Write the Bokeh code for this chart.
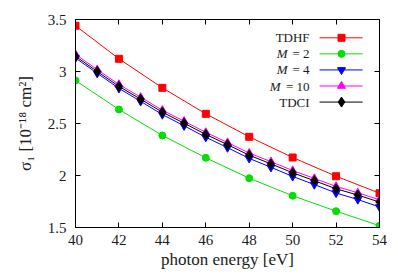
from bokeh.plotting import figure
from bokeh.models import Range1d, FixedTicker, LinearAxis, Label, CustomLabelingPolicy
from bokeh.core.properties import value
from bokeh.embed import file_html
from bokeh.resources import INLINE

# ---- data ----
energy_coarse = [40, 42, 44, 46, 48, 50, 52, 54]
energy_fine = [40, 41, 42, 43, 44, 45, 46, 47, 48, 49, 50, 51, 52, 53, 54]

tdhf = [3.44, 3.122, 2.843, 2.593, 2.372, 2.173, 1.993, 1.830]
m2 = [2.913, 2.635, 2.385, 2.170, 1.974, 1.805, 1.657, 1.517]
m4 = [3.130, 2.983, 2.838, 2.713, 2.586, 2.478, 2.368, 2.268, 2.164, 2.079,
      1.991, 1.913, 1.832, 1.769, 1.697]
m10 = [3.165, 3.018, 2.876, 2.753, 2.628, 2.522, 2.415, 2.317, 2.216, 2.133,
       2.048, 1.972, 1.895, 1.834, 1.766]
tdci = [3.147, 3.000, 2.857, 2.734, 2.609, 2.503, 2.395, 2.297, 2.195, 2.112,
        2.026, 1.950, 1.872, 1.812, 1.744]

x_ticks = [40, 42, 44, 46, 48, 50, 52, 54]
x_tick_labels = ["40", "42", "44", "46", "48", "50", "52", "54"]
y_ticks = [1.5, 2.0, 2.5, 3.0, 3.5]
y_tick_labels = ["1.5", "2", "2.5", "3", "3.5"]

series_names = ["TDHF", "M = 2", "M = 4", "M = 10", "TDCI"]
series_colors = ["#ff0000", "#00e000", "#0000ff", "#ff00ff", "#000000"]
series_markers = ["square", "circle", "inverted_triangle", "triangle", "diamond"]

FONT = "Liberation Serif"
TXT = "#1a1a1a"

p = figure(width=390, height=271, output_backend="svg", toolbar_location=None,
           x_range=Range1d(40, 54), y_range=Range1d(1.5, 3.5),
           min_border_left=75, min_border_top=19, min_border_right=11,
           min_border_bottom=10)
p.grid.visible = False
p.outline_line_color = "black"
p.outline_line_width = 1
p.background_fill_color = "white"
p.border_fill_color = "white"

for ax in (p.xaxis[0], p.yaxis[0]):
    ax.major_tick_in = 5
    ax.major_tick_out = 0
    ax.minor_tick_line_color = None
    ax.axis_line_color = "black"
    ax.major_tick_line_color = "black"
    ax.major_label_text_font = FONT
    ax.major_label_text_font_size = "15px"
    ax.major_label_text_color = TXT
    ax.axis_label_text_font = FONT
    ax.axis_label_text_font_size = "17px"
    ax.axis_label_text_font_style = "normal"
    ax.axis_label_text_color = TXT

p.xaxis.ticker = FixedTicker(ticks=x_ticks)
p.yaxis.ticker = FixedTicker(ticks=y_ticks)
p.xaxis.major_label_overrides = {t: l for t, l in zip(x_ticks, x_tick_labels)}
p.yaxis.major_label_overrides = {t: l for t, l in zip(y_ticks, y_tick_labels)}
p.xaxis.major_label_standoff = 7
p.yaxis.major_label_standoff = 9
p.xaxis.axis_label = "photon energy [eV]"
p.yaxis.axis_label = "σ₁ [10⁻¹⁸ cm²]"
p.xaxis.axis_label_standoff = 2
p.yaxis.axis_label_standoff = 10

top = LinearAxis(ticker=FixedTicker(ticks=x_ticks),
                 major_label_policy=CustomLabelingPolicy(code="return new Set()"),
                 major_label_text_font_size="1px",
                 major_tick_in=5, major_tick_out=0, minor_tick_line_color=None,
                 major_label_standoff=0)
right = LinearAxis(ticker=FixedTicker(ticks=y_ticks),
                   major_label_policy=CustomLabelingPolicy(code="return new Set()"),
                   major_label_text_font_size="1px",
                   major_tick_in=5, major_tick_out=0, minor_tick_line_color=None,
                   major_label_standoff=0)
p.add_layout(top, "above")
p.add_layout(right, "right")

all_x = [energy_coarse, energy_coarse, energy_fine, energy_fine, energy_fine]
all_y = [tdhf, m2, m4, m10, tdci]
for xs, ys, c, mk in zip(all_x, all_y, series_colors, series_markers):
    p.line(xs, ys, line_color=c, line_width=1)
    size = 8 if mk in ("triangle", "inverted_triangle") else 7
    if mk == "diamond":
        size = 10
    p.scatter(xs, ys, marker=mk, size=size, fill_color=c, line_color=c)

# ---- custom legend (label on left, sample on right) ----
leg_y_top = 3.324
leg_dy = 0.1545
leg_text_x = 50.78
leg_line_x0, leg_line_x1 = 51.24, 53.22
leg_mark_x = 52.25
for i, (name, c, mk) in enumerate(zip(series_names, series_colors, series_markers)):
    yy = leg_y_top - i * leg_dy
    if name.startswith("M = "):
        rest = name[1:].strip()
        p.text([leg_text_x], [yy], text=[rest], text_align="right",
               text_baseline="middle", text_font=value(FONT),
               text_font_size="13px", text_color=TXT)
        off = -22 if len(rest) <= 3 else -29
        p.text([leg_text_x], [yy], text=["M"], text_align="right",
               text_baseline="middle", text_font=value(FONT),
               text_font_size="13px", text_font_style="italic",
               text_color=TXT, x_offset=off)
    else:
        p.text([leg_text_x], [yy], text=[name], text_align="right",
               text_baseline="middle", text_font=value(FONT),
               text_font_size="13px", text_color=TXT)
    p.segment([leg_line_x0], [yy], [leg_line_x1], [yy], line_color=c, line_width=1)
    size = 8 if mk in ("triangle", "inverted_triangle") else 7
    if mk == "diamond":
        size = 10
    p.scatter([leg_mark_x], [yy], marker=mk, size=size, fill_color=c, line_color=c)

p.add_layout(Label(x=40, y=3.5, x_offset=-67, y_offset=1, text="(a)",
                   text_font=FONT, text_font_size="15px", text_color=TXT,
                   text_baseline="middle", text_align="left"))

open("out.html", "w").write(file_html(p, INLINE))
